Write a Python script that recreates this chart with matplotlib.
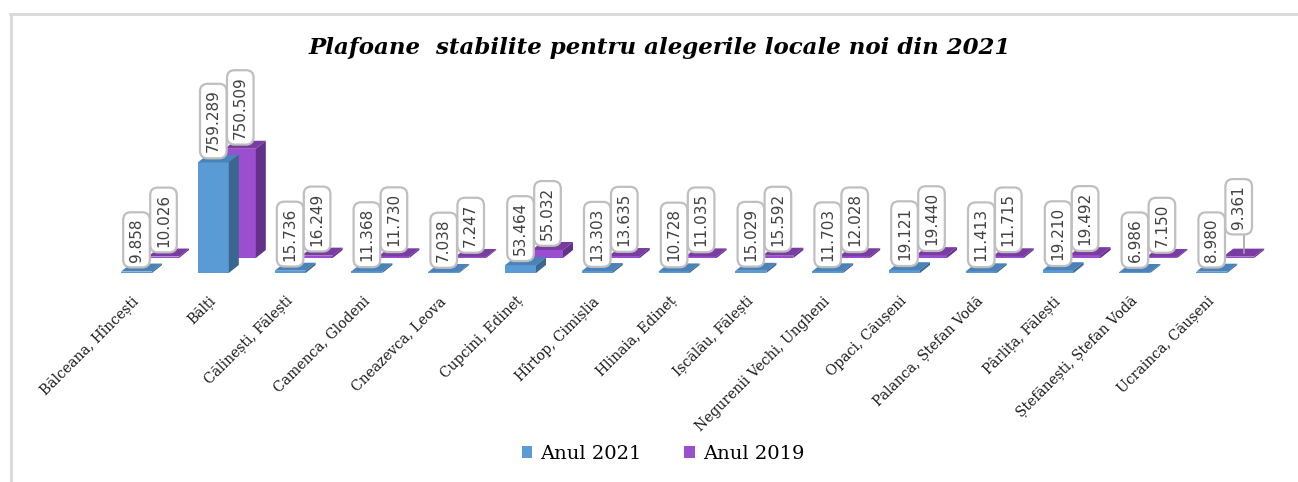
import matplotlib.pyplot as plt
from matplotlib.patches import Polygon, Patch
from matplotlib.lines import Line2D

# data
localitati = ['Bălceana, Hîncești', 'Bălți', 'Călinești, Fălești', 'Camenca, Glodeni',
              'Cneazevca, Leova', 'Cupcini, Edineț', 'Hîrtop, Cimișlia', 'Hlinaia, Edineț',
              'Ișcălău, Fălești', 'Negurenii Vechi, Ungheni', 'Opaci, Căușeni',
              'Palanca, Ștefan Vodă', 'Pârlița, Fălești', 'Ștefănești, Ștefan Vodă',
              'Ucrainca, Căușeni']
anul_2021 = [9.858, 759.289, 15.736, 11.368, 7.038, 53.464, 13.303, 10.728,
             15.029, 11.703, 19.121, 11.413, 19.210, 6.986, 8.980]
anul_2019 = [10.026, 750.509, 16.249, 11.730, 7.247, 55.032, 13.635, 11.035,
             15.592, 12.028, 19.440, 11.715, 19.492, 7.150, 9.361]
serii = ['Anul 2021', 'Anul 2019']
titlu = 'Plafoane  stabilite pentru alegerile locale noi din 2021'

# geometry (pixel based)
PX = 76.8          # pixels per category
VPP = 6.87         # value units per pixel
W = 31 / PX        # bar width
DX = 10 / PX       # depth in x
DY = 8 * VPP       # depth in y
OX = 27 / PX       # back series offset
OY = 15 * VPP

blue = dict(front='#5B9BD5', top='#4A82BA', side='#3A6790')
purple = dict(front='#9B4FCF', top='#7A3BA3', side='#63308A')

fig = plt.figure(figsize=(12.98, 4.82), dpi=100)
ax = fig.add_axes([0, 0, 1, 1])
ax.set_xlim(-136.5 / PX, (1298 - 136.5) / PX)
ax.set_ylim(-(482 - 273) * VPP, 273 * VPP)
ax.axis('off')


def bar3d(x0, y0, h, col):
    ax.add_patch(Polygon([(x0, y0), (x0 + W, y0), (x0 + W, y0 + h), (x0, y0 + h)],
                         closed=True, fc=col['front'], ec='none'))
    ax.add_patch(Polygon([(x0, y0 + h), (x0 + W, y0 + h), (x0 + W + DX, y0 + h + DY),
                          (x0 + DX, y0 + h + DY)], closed=True, fc=col['top'], ec='none'))
    ax.add_patch(Polygon([(x0 + W, y0), (x0 + W + DX, y0 + DY), (x0 + W + DX, y0 + h + DY),
                          (x0 + W, y0 + h)], closed=True, fc=col['side'], ec='none'))


def label(xc, ytop, txt, lift=0):
    yb = ytop + lift
    if lift:
        ax.plot([xc + DX / 2, xc + DX / 2], [ytop - DY / 2, yb], color='#A6A6A6', lw=1.2)
    ax.text(xc, yb + 2 * VPP, txt, rotation=90, ha='center', va='bottom',
            fontsize=11, color='#404040', family='DejaVu Sans',
            bbox=dict(boxstyle='round,pad=0.38,rounding_size=0.5', fc='white',
                      ec='#BFBFBF', lw=1.6))


n = len(localitati)
# back series first
for i in range(n):
    x0 = i - W / 2 + OX
    bar3d(x0, OY, anul_2019[i], purple)
for i in range(n):
    x0 = i - W / 2
    bar3d(x0, 0, anul_2021[i], blue)

for i in range(n):
    label(i, anul_2021[i] + DY, f'{anul_2021[i]:.3f}')
for i in range(n):
    lift = 18 * VPP if i == n - 1 else 0
    label(i + OX, OY + anul_2019[i] + DY, f'{anul_2019[i]:.3f}', lift)

for i, nume in enumerate(localitati):
    ax.text(i, -26 * VPP, nume, rotation=45, rotation_mode='anchor',
            ha='right', va='center', fontsize=10, family='DejaVu Serif', color='#1a1a1a')

fig.text(660 / 1298, 1 - 48 / 482, titlu, ha='center', va='center', fontsize=16.5,
         family='DejaVu Serif', style='italic', weight='bold', color='black')

handles = [Patch(fc=blue['front']), Patch(fc=purple['front'])]
fig.legend(handles, serii, loc='center', bbox_to_anchor=(663 / 1298, 1 - 454 / 482),
           ncol=2, frameon=False, handlelength=0.55, handleheight=0.55, handletextpad=0.4,
           columnspacing=2.2, prop=dict(family='DejaVu Serif', size=14))

# chart frame
fig.add_artist(Line2D([10 / 1298, 1297 / 1298], [1 - 14 / 482, 1 - 14 / 482],
                      transform=fig.transFigure, color='#D9D9D9', lw=2))
fig.add_artist(Line2D([11 / 1298, 11 / 1298], [1 - 14 / 482, 0],
                      transform=fig.transFigure, color='#D9D9D9', lw=2))

fig.savefig('out.png', dpi=100)
